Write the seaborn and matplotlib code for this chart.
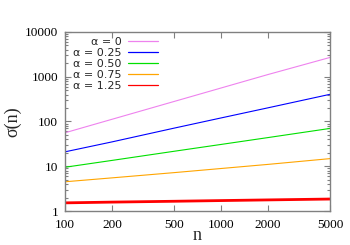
import numpy as np
import pandas as pd
import matplotlib
matplotlib.use("Agg")
import matplotlib.pyplot as plt
import seaborn as sns
from matplotlib.lines import Line2D
from matplotlib.ticker import FixedLocator, FixedFormatter, LogLocator, NullLocator, NullFormatter

n_values = [100, 200, 500, 1000, 2000, 5000]
sigma_a0 = [56, 112, 280, 560, 1120, 2700]
sigma_a025 = [21, 35, 71, 120, 202, 405]
sigma_a050 = [9.5, 13.5, 21.6, 30.7, 43.7, 70]
sigma_a075 = [4.5, 5.5, 7.2, 8.9, 11.0, 14.8]
sigma_a125 = [1.52, 1.58, 1.65, 1.71, 1.77, 1.85]
labels = ["α = 0", "α = 0.25", "α = 0.50", "α = 0.75", "α = 1.25"]
colors = ["#ee82ee", "#0000ff", "#00e000", "#ffa500", "#ff0000"]
series = [sigma_a0, sigma_a025, sigma_a050, sigma_a075, sigma_a125]

rows = []
for lab, vals in zip(labels, series):
    for n, s in zip(n_values, vals):
        rows.append({"n": n, "sigma": s, "alpha": lab})
df = pd.DataFrame(rows)

sns.set_style("ticks")
plt.rcParams["font.family"] = ["DejaVu Sans"]

fig = plt.figure(figsize=(3.5, 2.45), dpi=100)
ax = fig.add_axes([65/350, 1-211/245, 265/350, 179/245])

for lab, col in zip(labels, colors):
    sub = df[df["alpha"] == lab]
    lw = 2.0 if lab == "α = 1.25" else 0.8
    sns.lineplot(data=sub, x="n", y="sigma", color=col, lw=lw, ax=ax, legend=False)

ax.set_xscale("log")
ax.set_yscale("log")
ax.set_xlim(100, 5000)
ax.set_ylim(1, 10000)

xt = [100, 200, 500, 1000, 2000, 5000]
ax.xaxis.set_major_locator(FixedLocator(xt))
ax.xaxis.set_major_formatter(FixedFormatter([str(v) for v in xt]))
ax.xaxis.set_minor_locator(NullLocator())
yt = [1, 10, 100, 1000, 10000]
ax.yaxis.set_major_locator(FixedLocator(yt))
ax.yaxis.set_major_formatter(FixedFormatter([str(v) for v in yt]))
ax.yaxis.set_minor_locator(LogLocator(base=10, subs=np.arange(2, 10)))
ax.yaxis.set_minor_formatter(NullFormatter())

ax.tick_params(which="both", direction="in", top=True, right=True, color="#808080",
               labelsize=9.5, labelcolor="black", width=0.8)
ax.tick_params(which="major", length=4)
ax.tick_params(axis="x", which="major", pad=6)
ax.tick_params(axis="y", which="major", pad=5)
ax.tick_params(which="minor", length=2)
for lbl in ax.get_xticklabels() + ax.get_yticklabels():
    lbl.set_family(["Liberation Serif"])
for sp in ax.spines.values():
    sp.set_color("#808080")
    sp.set_linewidth(1.0)

ax.set_xlabel("n", family=["Liberation Serif"], fontsize=13)
ax.set_ylabel("σ(n)", family=["Liberation Serif"], fontsize=13)
ax.xaxis.label.set_va("center")
ax.yaxis.label.set_va("center")
ax.xaxis.set_label_coords(0.5, (211 - 235) / 179)
ax.yaxis.set_label_coords((13 - 65) / 265, 0.5)

handles = [Line2D([], [], color=c, lw=0.9) for c in colors]
leg = ax.legend(handles, labels, loc="upper left", bbox_to_anchor=(0.005, 1.012),
                frameon=False, markerfirst=False, fontsize=8, handlelength=2.7,
                handletextpad=0.6, labelspacing=0.1, borderaxespad=0.2)
for t in leg.get_texts():
    t.set_family(["DejaVu Sans"])

fig.savefig("out.png", dpi=100)
